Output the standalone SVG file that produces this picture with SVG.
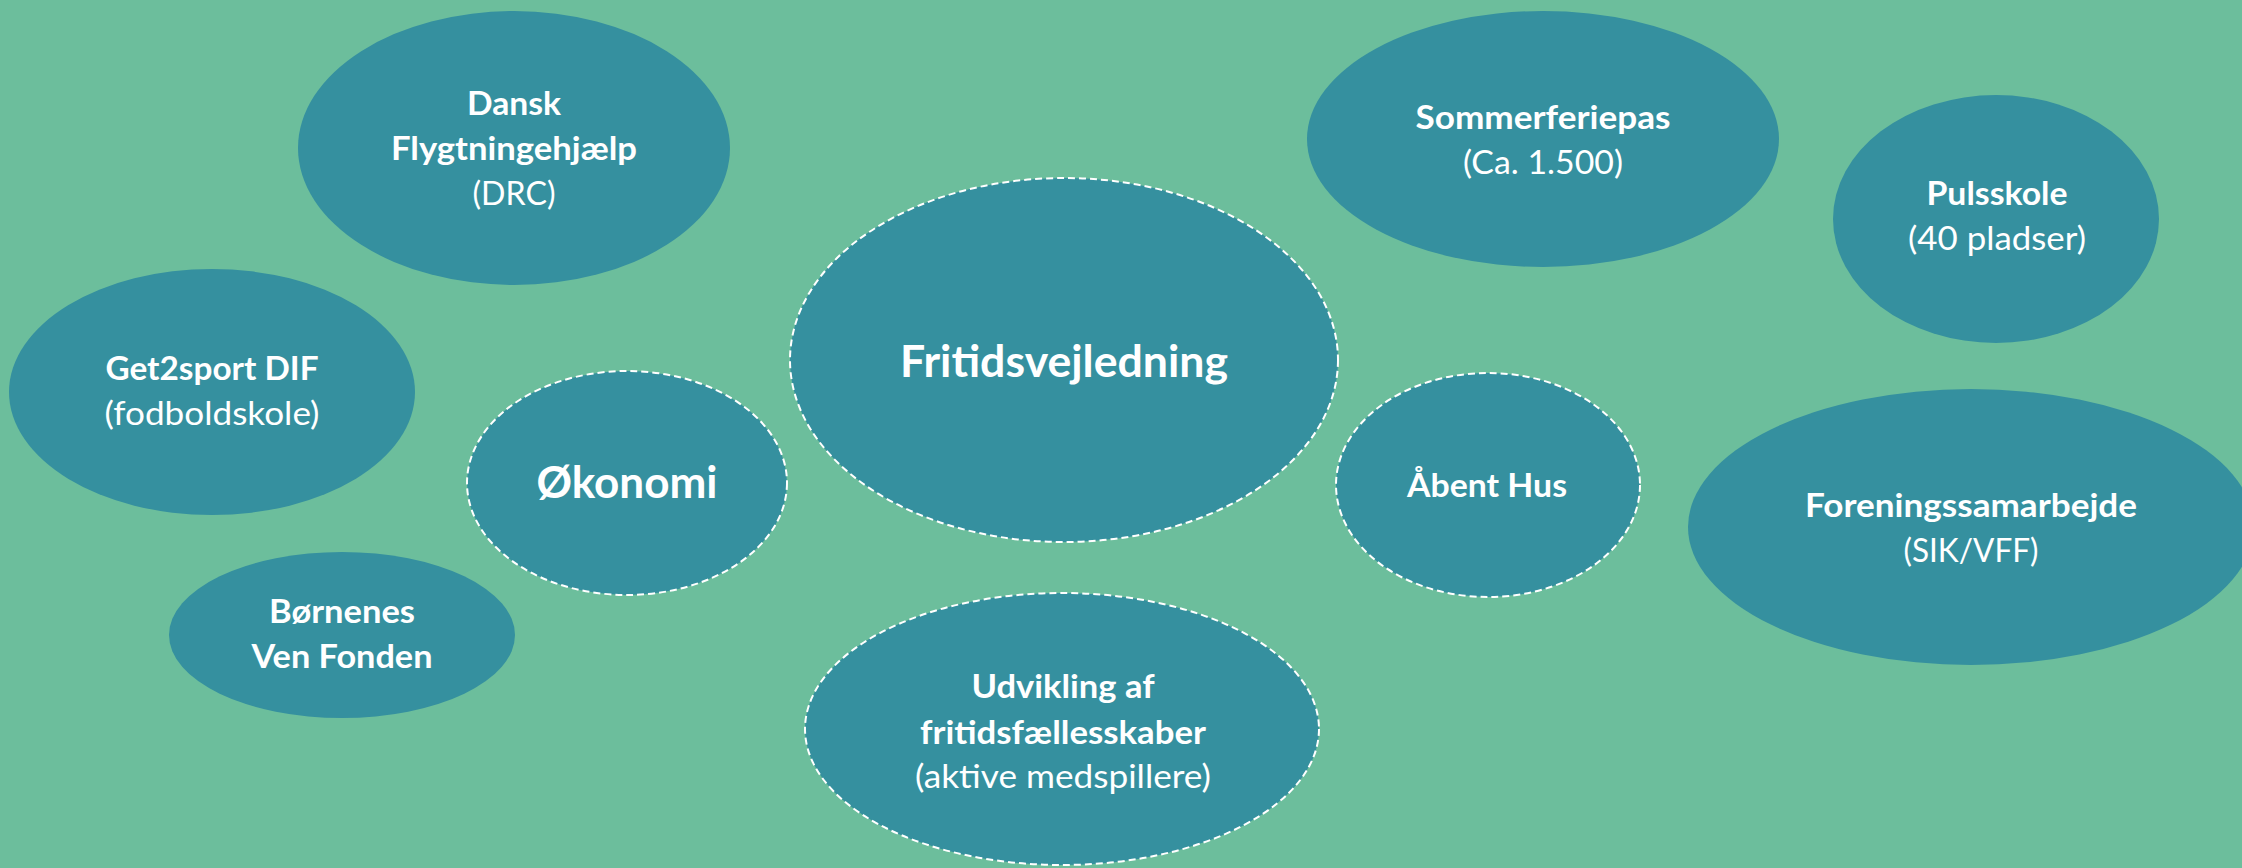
<svg xmlns="http://www.w3.org/2000/svg" width="2242" height="868" viewBox="0 0 2242 868">
<style>
.bg{fill:#6CBE9C}
.n{fill:#35909F}
.d{stroke:#FFFFFF;stroke-width:2;stroke-dasharray:7 4;fill:#35909F}
text{fill:#FFFFFF;font-family:Lato,"Open Sans","Liberation Sans",sans-serif;text-anchor:middle}
.b{font-weight:700;font-size:33px}
.r{font-weight:400;font-size:33px}
.big{font-weight:700;font-size:43px}
</style>
<rect class="bg" x="0" y="0" width="2242" height="868"/>
<g id="connectors"/>
<g id="dansk">
<ellipse class="n" cx="514" cy="148" rx="216" ry="137"/>
<text class="b" x="514" y="115" textLength="94" lengthAdjust="spacingAndGlyphs">Dansk</text>
<text class="b" x="514" y="160" textLength="246" lengthAdjust="spacingAndGlyphs">Flygtningehjælp</text>
<text class="r" x="514" y="205" textLength="83" lengthAdjust="spacingAndGlyphs">(DRC)</text>
</g>
<g id="fritidsvejledning">
<ellipse class="d" cx="1064" cy="360" rx="274" ry="182"/>
<text class="big" x="1064" y="377" textLength="328" lengthAdjust="spacingAndGlyphs">Fritidsvejledning</text>
</g>
<g id="sommerferiepas">
<ellipse class="n" cx="1543" cy="139" rx="236" ry="128"/>
<text class="b" x="1543" y="129" textLength="255" lengthAdjust="spacingAndGlyphs">Sommerferiepas</text>
<text class="r" x="1543" y="174" textLength="160" lengthAdjust="spacingAndGlyphs">(Ca. 1.500)</text>
</g>
<g id="pulsskole">
<ellipse class="n" cx="1996" cy="219" rx="163" ry="124"/>
<text class="b" x="1997" y="205" textLength="141" lengthAdjust="spacingAndGlyphs">Pulsskole</text>
<text class="r" x="1997" y="250" textLength="178" lengthAdjust="spacingAndGlyphs">(40 pladser)</text>
</g>
<g id="get2sport">
<ellipse class="n" cx="212" cy="392" rx="203" ry="123"/>
<text class="b" x="212" y="380" textLength="213" lengthAdjust="spacingAndGlyphs">Get2sport DIF</text>
<text class="r" x="212" y="425" textLength="215" lengthAdjust="spacingAndGlyphs">(fodboldskole)</text>
</g>
<g id="okonomi">
<ellipse class="d" cx="627" cy="483" rx="160" ry="112"/>
<text class="big" x="627" y="498" textLength="181" lengthAdjust="spacingAndGlyphs">Økonomi</text>
</g>
<g id="aabent-hus">
<ellipse class="d" cx="1488" cy="485" rx="152" ry="112"/>
<text class="b" x="1487" y="497" textLength="160" lengthAdjust="spacingAndGlyphs">Åbent Hus</text>
</g>
<g id="foreningssamarbejde">
<ellipse class="n" cx="1971" cy="527" rx="283" ry="138"/>
<text class="b" x="1971" y="517" textLength="332" lengthAdjust="spacingAndGlyphs">Foreningssamarbejde</text>
<text class="r" x="1971" y="562" textLength="135" lengthAdjust="spacingAndGlyphs">(SIK/VFF)</text>
</g>
<g id="bornenes-ven-fonden">
<ellipse class="n" cx="342" cy="635" rx="173" ry="83"/>
<text class="b" x="342" y="623" textLength="146" lengthAdjust="spacingAndGlyphs">Børnenes</text>
<text class="b" x="342" y="668" textLength="181" lengthAdjust="spacingAndGlyphs">Ven Fonden</text>
</g>
<g id="udvikling">
<ellipse class="d" cx="1062" cy="729" rx="257" ry="136"/>
<text class="b" x="1063" y="698" textLength="183" lengthAdjust="spacingAndGlyphs">Udvikling af</text>
<text class="b" x="1063" y="744" textLength="286" lengthAdjust="spacingAndGlyphs">fritidsfællesskaber</text>
<text class="r" x="1063" y="788" textLength="296" lengthAdjust="spacingAndGlyphs">(aktive medspillere)</text>
</g>
</svg>
